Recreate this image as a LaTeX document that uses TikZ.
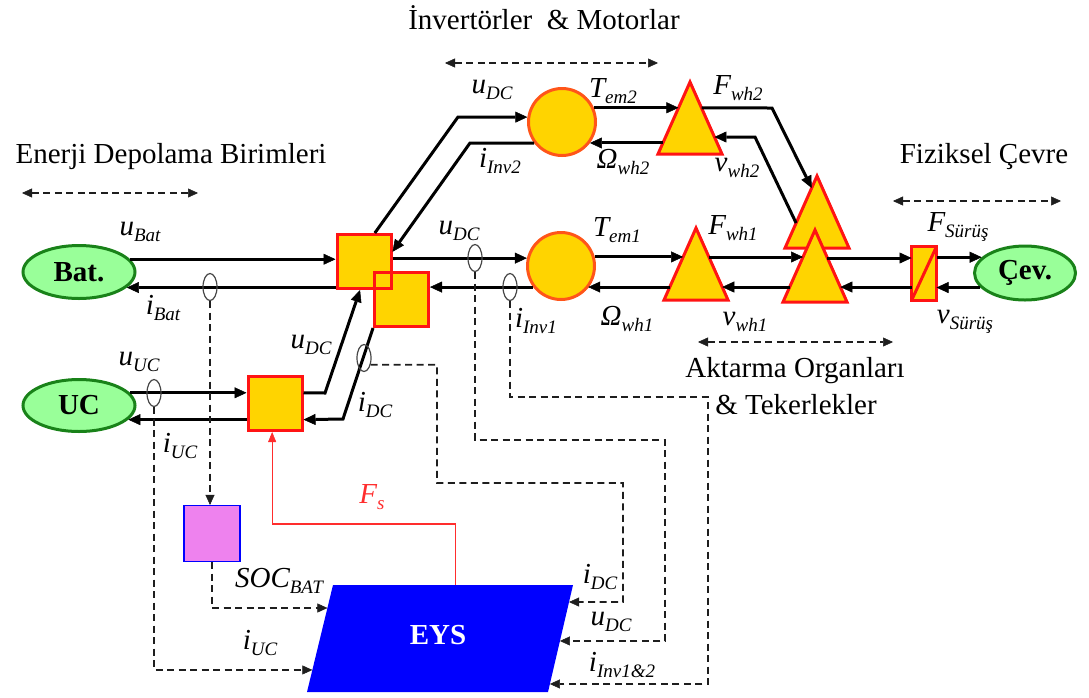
\documentclass[tikz,border=0pt]{standalone}
\usepackage{fontspec}
\setmainfont{Liberation Serif}
\usetikzlibrary{arrows.meta,calc,shapes.geometric}

\definecolor{gold}{RGB}{255,212,0}
\definecolor{convred}{RGB}{255,20,20}
\definecolor{motorred}{RGB}{255,85,25}
\definecolor{storefill}{RGB}{153,255,153}
\definecolor{storeline}{RGB}{25,130,25}
\definecolor{socfill}{RGB}{238,130,238}
\definecolor{eysblue}{RGB}{0,0,255}
\definecolor{fsred}{RGB}{255,45,45}
\definecolor{sensorgray}{RGB}{70,70,70}
\definecolor{dashgray}{RGB}{30,30,30}

% variable with a lowered, smaller index
\newcommand{\idx}[1]{\raisebox{-0.2em}{\fontsize{19}{19}\selectfont #1}}
\newcommand{\lbl}[2]{#1\idx{#2}}

\begin{document}
\begin{tikzpicture}[x=1pt,y=-1pt,
  every node/.style={font=\fontsize{29}{32}\selectfont},
  store/.style={ellipse, draw=storeline, fill=storefill, line width=3pt,
    minimum width=112pt, minimum height=53pt, inner sep=0pt,
    font=\fontsize{29}{32}\selectfont\bfseries},
  conv/.style={rectangle, draw=convred, fill=gold, line width=3pt,
    minimum size=54pt, inner sep=0pt},
  motor/.style={circle, draw=motorred, fill=gold, line width=3pt,
    minimum size=67pt, inner sep=0pt},
  wheelbox/.style={rectangle, draw=none, minimum width=64pt,
    minimum height=72pt, inner sep=0pt, outer sep=0pt},
  wheel/.style={draw=convred, fill=gold, line width=3pt},
  sensor/.style={ellipse, draw=sensorgray, line width=1.2pt,
    minimum width=14pt, minimum height=27pt, inner sep=0pt},
  lab/.style={font=\fontsize{29}{32}\selectfont\itshape, inner sep=0pt},
  title/.style={font=\fontsize{29}{32}\selectfont, inner sep=0pt},
  power/.style={line width=3pt,
    -{Triangle[length=12pt,width=11pt,line width=0.5pt]}},
  meas/.style={dashgray, line width=1.8pt, dash pattern=on 7pt off 4.5pt,
    -{Triangle[length=10pt,width=9pt,line width=0.5pt]}},
  span/.style={dashgray, line width=1.8pt, dash pattern=on 7pt off 4.5pt,
    {Triangle[length=10pt,width=9pt,line width=0.5pt]}-{Triangle[length=10pt,width=9pt,line width=0.5pt]}},
  fs/.style={fsred, line width=1.3pt,
    -{Triangle[length=10pt,width=8pt,line width=0.5pt]}},
]
\useasboundingbox (0,0) rectangle (1089,697);

% ---------- section titles ----------
\node[title] (tInv) at (544,18) {İnvertörler \ \& Motorlar};
\node[title] (tEnr) at (171,157) {Enerji Depolama Birimleri};
\node[title] (tFiz) at (984,157) {Fiziksel Çevre};
\node[title] (tAkt) at (795,371) {Aktarma Organları};
\node[title] (tTek) at (796,405) {\& Tekerlekler};
\draw[span] (445,63) -- (658,63);
\draw[span] (22,193) -- (198,193);
\draw[span] (893,201) -- (1061,201);
\draw[span] (698,342) -- (893,342);

% ---------- sources and environment ----------
\node[store] (bat) at (79,272) {Bat.};
\node[store, minimum height=52pt] (uc) at (79,405.5) {UC};
\node[store, minimum width=101pt, minimum height=54pt] (cev) at (1025,273) {Çev.};

% ---------- converters ----------
\node[conv] (sq1) at (364,261.5) {};
\node[conv] (sq2) at (401.5,299.5) {};
\node[conv, fill=none] at (sq1) {};
\node[conv] (sq3) at (275,403.5) {};
\node[conv, minimum width=25pt, minimum height=54pt, outer sep=0pt] (drv) at (924,273.5) {};
\draw[convred, line width=3pt] (drv.south west) -- (drv.north east);

% ---------- motors ----------
\node[motor] (c2) at (562,122) {};
\node[motor] (c1) at (561,266) {};

% ---------- transmissions and wheels ----------
\node[wheelbox] (t2) at (690,118) {};
\node[wheelbox] (t3) at (696,264) {};
\node[wheelbox] (t4) at (817,212) {};
\node[wheelbox] (t5) at (815,266) {};
\foreach \t in {t2,t3,t4,t5}
  \draw[wheel] (\t.south west) -- (\t.north) -- (\t.south east) -- cycle;

% ---------- energy management ----------
\coordinate (eTL) at (333,585);
\coordinate (eTR) at (573,585);
\coordinate (eBR) at (548,692);
\coordinate (eBL) at (307,692);
\fill[eysblue] (eTL) -- (eTR) -- (eBR) -- (eBL) -- cycle;
\node[font=\fontsize{29}{32}\selectfont\bfseries, text=white] (eys) at (438,635) {EYS};
\node[draw=blue, fill=socfill, line width=1.2pt, minimum width=56pt,
  minimum height=56pt, inner sep=0pt] (soc) at (212,533.5) {};

% ---------- connection points on the shapes ----------
\coordinate (sq1top) at ($(sq1.north west)!0.69!(sq1.north east)$);
\coordinate (sq1bot) at ($(sq1.south west)!0.43!(sq1.south east)$);
\coordinate (sq1rgt) at ($(sq1.north east)!0.33!(sq1.south east)$);
\coordinate (sq3bot) at ($(sq3.south west)!0.45!(sq3.south east)$);
\coordinate (t2L1) at ($(t2.south west)!0.64!(t2.north)$);
\coordinate (t2L2) at ($(t2.south west)!0.153!(t2.north)$);
\coordinate (t2R1) at ($(t2.south east)!0.64!(t2.north)$);
\coordinate (t2R2) at ($(t2.south east)!0.236!(t2.north)$);
\coordinate (t3L1) at ($(t3.south west)!0.597!(t3.north)$);
\coordinate (t3L2) at ($(t3.south west)!0.18!(t3.north)$);
\coordinate (t3R1) at ($(t3.south east)!0.597!(t3.north)$);
\coordinate (t3R2) at ($(t3.south east)!0.18!(t3.north)$);
\coordinate (t4L1) at ($(t4.south west)!0.833!(t4.north)$);
\coordinate (t4L2) at ($(t4.south west)!0.347!(t4.north)$);
\coordinate (t5L1) at ($(t5.south west)!0.625!(t5.north)$);
\coordinate (t5L2) at ($(t5.south west)!0.208!(t5.north)$);
\coordinate (t5R1) at ($(t5.south east)!0.611!(t5.north)$);
\coordinate (t5R2) at ($(t5.south east)!0.208!(t5.north)$);
\coordinate (eL1) at ($(eTL)!0.215!(eBL)$);
\coordinate (eL2) at ($(eTL)!0.794!(eBL)$);
\coordinate (eR1) at ($(eTR)!0.159!(eBR)$);
\coordinate (eR2) at ($(eTR)!0.523!(eBR)$);
\coordinate (eR3) at ($(eTR)!0.925!(eBR)$);

% ---------- power flow ----------
\draw[power] (bat.14) -- (bat.14 -| sq1.west);
\draw[power] (sq1.west |- bat.-18) -- (bat.-18);
\draw[power] (uc.14) -- (uc.14 -| sq3.west);
\draw[power] (sq3.west |- uc.-16) -- (uc.-16);
\draw[power] (sq3.east |- uc.14) -- (325,393) -- (sq1bot);
\draw[power] (sq2.south west) -- (343,419) -- (sq3.east |- uc.-16);
\draw[power] (sq1.east |- c1.167) -- (c1.167);
\draw[power] (c1.217) -- (c1.217 -| sq2.east);
\draw[power] (sq1top) -- (458,117) -- (c2.172);
\draw[power] (c2.217) -- (470,143) -- (sq1rgt);
\draw[power] (c2.24) -- (c2.24 -| t2L1);
\draw[power] (t2L2) -- (t2L2 -| c2.-37);
\draw[power] (c1.15) -- (c1.15 -| t3L1);
\draw[power] (t3L2) -- (t3L2 -| c1.-39);
\draw[power] (t2R1) -- (772,108) -- (t4L1);
\draw[power] (t4L2) -- (755,137) -- (t2R2);
\draw[power] (t3R1) -- (t3R1 -| t5L1);
\draw[power] (t5L2) -- (t5L2 -| t3R2);
\draw[power] (t5R1) -- (t5R1 -| drv.west);
\draw[power] (drv.west |- t5R2) -- (t5R2);
\draw[power] (drv.east |- cev.160) -- (cev.160);
\draw[power] (cev.198) -- (cev.198 -| drv.east);

% ---------- sensors ----------
\node[sensor] (sBat) at (210,287) {};
\node[sensor] (sUC) at (154,393) {};
\node[sensor] (sDC) at (364,358) {};
\node[sensor] (sU1) at (475,258) {};
\node[sensor] (sI1) at (510,287) {};

% ---------- measurements ----------
\draw[meas] (sBat.south) -- (sBat.south |- soc.north);
\draw[meas] (soc.south) |- (eL1);
\draw[meas] (sUC.south) |- (eL2);
\draw[meas] (sDC.-45) -| (437,483) -| (623,602) -- (eR1);
\draw[meas] (sU1.south) |- (665,440) |- (eR2);
\draw[meas] (sI1.south) |- (708,397) |- (eR3);
\draw[fs] ($(eTL)!0.51!(eTR)$) |- ($(sq3bot)+(0,92)$) -- (sq3bot);

% ---------- signal labels ----------
\node[lab] (lUBat) at (140,232) {\lbl{u}{Bat}};
\node[lab] (lIBat) at (163,308) {\lbl{i}{Bat}};
\node[lab] (lUUC) at (139,362) {\lbl{u}{UC}};
\node[lab] (lIUC) at (180,446) {\lbl{i}{UC}};
\node[lab] (lUDCa) at (311,345) {\lbl{u}{DC}};
\node[lab] (lIDCa) at (375,405) {\lbl{i}{DC}};
\node[lab] (lUDCb) at (459,231) {\lbl{u}{DC}};
\node[lab] (lUDCc) at (492,90) {\lbl{u}{DC}};
\node[lab] (lInv2) at (500,161) {\lbl{i}{Inv2}};
\node[lab] (lTem2) at (613,91) {\lbl{T}{em2}};
\node[lab] (lOm2) at (623,162) {\lbl{Ω}{wh2}};
\node[lab] (lFwh2) at (738,88) {\lbl{F}{wh2}};
\node[lab] (lVwh2) at (737,168) {\lbl{v}{wh2}};
\node[lab] (lTem1) at (617,230) {\lbl{T}{em1}};
\node[lab] (lFwh1) at (733,228) {\lbl{F}{wh1}};
\node[lab] (lInv1) at (536,321) {\lbl{i}{Inv1}};
\node[lab] (lOm1) at (627,319) {\lbl{Ω}{wh1}};
\node[lab] (lVwh1) at (745,322) {\lbl{v}{wh1}};
\node[lab] (lFdr) at (958,227) {\lbl{F}{Sürüş}};
\node[lab] (lVdr) at (965,322) {\lbl{v}{Sürüş}};
\node[lab] (lSOC) at (279,581) {\lbl{SOC}{BAT}};
\node[lab] (lIUCb) at (260,643) {\lbl{i}{UC}};
\node[lab] (lIDCb) at (600,577) {\lbl{i}{DC}};
\node[lab] (lUDCd) at (611,622) {\lbl{u}{DC}};
\node[lab] (lInv12) at (622,665) {\lbl{i}{Inv1\&2}};
\node[lab, text=fsred] (lFs) at (372,497) {\lbl{F}{s}};
\end{tikzpicture}
\end{document}
